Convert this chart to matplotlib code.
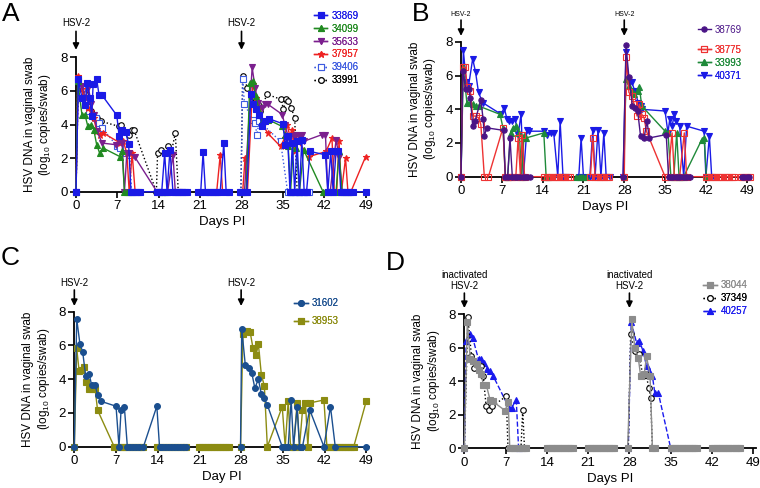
import numpy as np
import matplotlib.pyplot as plt

plt.rcParams['font.family'] = ['Liberation Sans', 'DejaVu Sans']
plt.rcParams['mathtext.fontset'] = 'custom'
plt.rcParams['mathtext.rm'] = 'Liberation Sans'
plt.rcParams['mathtext.default'] = 'regular'

nan = np.nan

# ---- panel A: (day, log10 copies) per animal, nan breaks the line
a_33869 = [(0, 0), (0.4, 6.7), (1.0, 5.6), (1.5, 5.15), (1.9, 6.45), (2.3, 5.6), (2.65, 4.5), (2.9, 6.4),
           (3.5, 6.7), (3.9, 5.75), (4.4, 5.75), (6.9, 4.55), (7.3, 3.3), (7.85, 3.7), (8.4, 3.55), (8.9, 2.85),
           (9.3, 0), (9.7, 0), (10.1, 0), (10.5, 0), (10.9, 0), (13.7, 0), (14.1, 0), (14.5, 0), (15.0, 2.3),
           (15.4, 0), (15.9, 2.5), (16.4, 0), (16.8, 0), (17.2, 0), (17.6, 0), (18.0, 0), (18.4, 0), (18.8, 0),
           (nan, nan), (20.7, 0), (21.1, 0), (21.5, 2.35), (21.9, 0), (22.3, 0), (22.7, 0), (23.1, 0), (23.5, 0),
           (23.9, 0), (24.4, 0), (25.0, 2.9), (25.4, 0), (25.8, 0), (nan, nan), (27.8, 0), (28.3, 0), (28.9, 0),
           (29.6, 5.85), (30.0, 5.2), (30.5, 4.9), (31.0, 4.6), (31.5, 3.9), (31.9, 4.2), (32.6, 4.35),
           (35.0, 4.05), (35.4, 2.8), (35.8, 3.3), (36.2, 0), (36.6, 2.9), (37.0, 0), (37.4, 3.0), (37.8, 0),
           (38.2, 3.1), (38.6, 0), (39.0, 0), (39.6, 2.4), (42.2, 2.2), (42.6, 0), (43.1, 2.4), (43.5, 0),
           (44.0, 2.4), (44.4, 2.4), (44.8, 0), (45.2, 0), (45.6, 0), (46.0, 0), (46.4, 0), (46.8, 0), (49.0, 0)]
a_34099 = [(0, 0), (0.3, 6.6), (1.0, 4.6), (1.5, 4.6), (2.0, 3.9), (2.6, 4.0), (3.0, 3.7), (3.5, 2.8),
           (4.0, 2.3), (4.6, 2.6), (7.4, 2.1), (7.8, 2.4), (8.2, 0), (8.6, 0), (9.0, 0), (nan, nan), (14.2, 0),
           (14.6, 0), (15.0, 0), (15.4, 0), (nan, nan), (27.9, 0), (28.8, 0), (29.4, 6.5), (29.9, 6.6),
           (30.4, 5.7), (31.0, 4.8), (31.5, 4.2), (32.5, 4.3), (34.8, 3.9), (35.4, 3.4), (35.9, 2.7), (36.3, 0),
           (36.8, 2.9), (37.3, 2.6), (37.8, 0), (38.5, 2.5), (41.8, 0), (42.2, 0), (43.0, 0), (44.0, 0),
           (44.5, 2.4), (45.0, 0), (46.0, 0)]
a_35633 = [(0, 0), (0.4, 6.6), (1.0, 6.3), (1.6, 5.6), (2.1, 6.2), (2.6, 5.2), (3.0, 4.6), (3.6, 3.6),
           (4.4, 2.9), (6.8, 2.8), (7.3, 3.0), (7.8, 2.9), (8.2, 0), (8.6, 2.3), (9.0, 2.3), (9.9, 2.1),
           (13.7, 0), (14.2, 0), (15.0, 0), (15.5, 0), (16.4, 2.2), (16.8, 0), (17.5, 0), (18.0, 0), (nan, nan),
           (28.5, 0), (29.8, 7.4), (30.3, 6.2), (30.8, 5.3), (31.4, 5.0), (32.0, 5.2), (32.5, 5.2), (34.9, 4.6),
           (35.3, 4.0), (36.0, 3.2), (36.8, 3.3), (37.3, 3.4), (37.7, 3.35), (38.2, 3.4), (38.5, 3.0),
           (41.6, 3.4), (42.2, 3.4), (42.6, 0), (43.0, 0), (44.0, 3.1), (44.5, 2.1), (45.0, 0)]
a_37957 = [(0, 0), (0.3, 6.9), (1.0, 6.1), (1.5, 5.2), (2.0, 5.0), (2.5, 4.8), (3.0, 4.4), (3.5, 3.6),
           (4.1, 3.4), (4.6, 3.5), (7.5, 2.9), (8.0, 3.0), (8.6, 2.3), (9.0, 0), (9.5, 2.3), (10.0, 0), (nan, nan),
           (23.8, 0), (24.4, 2.2), (24.8, 0), (nan, nan), (28.2, 0), (28.6, 2.0), (29.0, 0), (29.9, 6.4),
           (30.5, 5.6), (31.0, 4.9), (31.6, 4.0), (32.4, 3.5), (34.6, 2.7), (35.3, 3.2), (35.7, 4.0), (36.2, 3.3),
           (36.6, 3.7), (37.0, 2.4), (37.5, 3.0), (39.5, 2.1), (42.3, 2.4), (43.3, 3.2), (43.7, 0), (44.1, 0),
           (44.5, 3.0), (44.9, 0), (45.6, 2.0), (46.0, 0), (46.5, 0), (49.0, 2.1)]
a_39406 = [(0, 0), (0.3, 6.6), (1.0, 6.2), (1.5, 5.3), (2.2, 4.8), (2.8, 4.6), (3.4, 4.4), (3.9, 4.1),
           (4.4, 3.8), (7.0, 2.7), (7.4, 2.6), (8.5, 2.3), (9.1, 2.2), (9.4, 0), (nan, nan), (27.9, 0), (28.2, 6.7),
           (28.5, 5.2), (29.9, 4.3), (30.3, 4.1), (30.6, 3.4), (31.0, 4.2), (34.6, 3.0), (35.8, 0), (36.2, 0),
           (36.6, 0), (37.0, 0), (37.4, 0), (37.8, 0), (38.2, 0), (38.6, 0), (39.0, 0), (39.4, 0)]
a_33991 = [(0, 0), (0.4, 6.6), (1.0, 6.3), (1.5, 5.8), (2.0, 5.4), (2.5, 4.8), (3.0, 4.4), (3.6, 4.4),
           (4.2, 4.2), (7.2, 3.9), (7.6, 4.0), (8.9, 3.4), (9.4, 3.7), (9.8, 3.7), (13.6, 0), (13.8, 2.3),
           (14.3, 2.5), (15.6, 2.7), (16.1, 2.3), (16.8, 3.5), (17.3, 0), (nan, nan), (27.9, 0), (28.2, 6.9),
           (29.0, 6.2), (29.6, 5.7), (30.2, 5.6), (30.8, 5.2), (31.2, 4.8), (32.3, 5.8), (34.7, 5.5), (35.1, 4.9),
           (35.5, 5.5), (35.9, 5.4), (36.4, 5.0), (37.0, 4.4), (37.4, 0), (38.0, 0), (38.6, 0), (39.2, 0)]

# ---- panel B
b_38769 = [(0, 0), (0.3, 6.3), (0.8, 5.2), (1.3, 5.2), (1.6, 4.7), (2.0, 3.0), (2.4, 3.3), (3.4, 4.55),
           (3.8, 3.4), (4.0, 2.4), (4.4, 2.9), (7.3, 2.75), (7.6, 0), (8.0, 0), (8.4, 2.3), (8.8, 0), (9.2, 0),
           (9.6, 0), (10.2, 0), (10.6, 0), (11.0, 0), (11.4, 0), (11.8, 0), (nan, nan), (27.8, 0), (28.3, 7.8),
           (28.8, 5.9), (29.4, 4.2), (29.8, 4.1), (30.3, 3.9), (30.8, 2.4), (31.4, 2.3), (31.9, 3.3), (32.3, 2.3),
           (35.2, 2.5), (35.6, 0), (36.0, 0), (36.4, 0), (36.8, 0), (37.2, 0), (37.6, 0), (38.0, 0), (38.4, 0),
           (38.8, 0), (39.2, 0), (nan, nan), (48.2, 0), (48.6, 0), (49.0, 0), (49.4, 0)]
b_38775 = [(0, 0), (0.3, 6.5), (0.7, 6.5), (1.1, 5.3), (1.6, 5.1), (2.0, 3.6), (2.5, 3.6), (3.0, 3.5),
           (3.4, 3.1), (4.0, 0), (4.7, 0), (7.2, 2.9), (7.6, 0), (8.0, 0), (8.4, 0), (8.8, 0), (9.4, 0), (9.8, 2.3),
           (10.2, 0), (10.5, 2.5), (10.9, 0), (14.3, 0), (14.7, 0), (15.1, 0), (15.5, 0), (15.9, 0), (16.3, 0),
           (16.7, 0), (17.1, 0), (17.5, 0), (17.9, 0), (18.3, 0), (18.7, 0), (nan, nan), (22.2, 0), (22.6, 2.3),
           (23.0, 0), (23.4, 0), (23.8, 0), (24.2, 0), (24.6, 0), (25.0, 0), (25.4, 0), (nan, nan), (28.0, 0),
           (28.3, 7.1), (28.8, 5.0), (29.3, 4.8), (29.7, 4.3), (30.2, 3.6), (30.6, 4.3), (31.0, 3.7), (31.4, 3.5),
           (31.8, 2.7), (35.0, 0), (35.5, 0), (36.2, 2.6), (36.6, 0), (37.0, 0), (37.5, 0), (38.3, 2.6), (38.7, 0),
           (42.0, 0), (42.4, 0), (42.8, 0), (43.2, 0), (43.6, 0), (44.0, 0), (44.4, 0), (44.8, 0), (45.2, 0),
           (45.6, 0), (46.0, 0), (46.4, 0), (46.8, 0), (48.0, 0), (48.4, 0), (48.8, 0), (49.2, 0), (49.6, 0)]
b_33993 = [(0, 0), (0.4, 6.5), (1.0, 4.4), (1.5, 4.4), (2.0, 4.3), (2.6, 4.2), (3.0, 4.2), (6.7, 3.7),
           (7.2, 2.9), (7.6, 0), (8.0, 0), (8.5, 2.6), (9.0, 2.9), (9.5, 3.0), (10.0, 2.6), (10.4, 0), (10.8, 2.4),
           (11.2, 2.3), (14.2, 2.6), (14.6, 0), (15.0, 0), (nan, nan), (19.8, 0), (20.2, 0), (20.6, 0), (21.0, 0),
           (21.4, 0), (nan, nan), (27.9, 0), (28.3, 5.8), (28.8, 5.4), (29.3, 5.1), (29.7, 4.9), (30.3, 5.1),
           (30.6, 5.3), (31.0, 4.2), (35.0, 2.7), (35.5, 2.6), (36.0, 0), (36.5, 0), (37.0, 2.6), (37.4, 0),
           (37.8, 0), (38.2, 0), (41.3, 2.2), (41.7, 2.3), (42.1, 0)]
b_40371 = [(0, 0), (0.4, 7.5), (0.9, 5.6), (1.3, 5.4), (2.0, 7.0), (2.5, 6.2), (3.0, 5.0), (3.7, 4.4),
           (6.9, 3.7), (7.4, 4.1), (7.9, 3.4), (8.3, 3.3), (8.8, 3.3), (9.3, 3.4), (9.8, 2.5), (10.3, 3.7),
           (10.7, 0), (11.3, 2.8), (11.7, 2.7), (14.3, 2.7), (14.8, 2.5), (15.4, 2.6), (15.9, 2.6), (16.6, 0),
           (17.0, 3.3), (17.5, 0), (18.0, 0), (nan, nan), (20.2, 0), (20.6, 2.3), (21.0, 0), (22.1, 0), (22.6, 2.8),
           (23.0, 0), (23.5, 2.8), (24.0, 0), (24.5, 2.6), (24.9, 0), (25.5, 0), (nan, nan), (27.8, 0), (28.3, 7.4),
           (28.8, 5.5), (29.3, 5.6), (29.8, 5.1), (30.4, 4.4), (30.8, 4.2), (31.0, 4.0), (35.0, 3.9), (35.5, 2.6),
           (35.8, 3.4), (36.2, 3.0), (36.6, 3.7), (36.9, 3.3), (37.5, 3.0), (38.2, 0), (38.7, 3.0), (41.7, 2.7),
           (42.0, 0), (42.6, 2.4), (43.0, 0)]

# ---- panel C
c_31602 = [(0, 0), (0.4, 7.57), (0.95, 6.07), (1.4, 5.63), (1.9, 4.2), (2.5, 4.3), (2.9, 3.65), (3.5, 3.65),
           (3.9, 3.06), (4.4, 2.7), (7.0, 2.4), (7.5, 0), (7.85, 2.2), (8.4, 2.35), (8.9, 0), (9.4, 0), (9.9, 0),
           (10.4, 0), (10.9, 0), (11.6, 0), (13.85, 2.4), (14.3, 0), (14.8, 0), (15.3, 0), (15.8, 0), (16.3, 0),
           (16.8, 0), (17.3, 0), (17.8, 0), (18.3, 0), (18.8, 0), (nan, nan), (27.9, 0), (28.1, 7.0), (28.7, 4.84),
           (29.3, 4.68), (29.8, 4.35), (30.3, 3.48), (30.9, 4.0), (31.4, 3.1), (31.9, 2.87), (32.4, 2.47),
           (34.9, 0), (35.4, 0), (35.9, 0), (36.4, 2.77), (36.8, 0), (37.4, 2.33), (37.8, 0), (38.3, 0),
           (39.5, 2.2), (41.9, 0), (43.0, 2.37), (43.8, 0), (49.0, 0)]
c_38953 = [(0, 0), (0.4, 5.83), (0.8, 4.5), (1.2, 4.55), (1.6, 4.75), (1.9, 3.85), (2.5, 3.4), (3.0, 3.4),
           (3.5, 3.4), (3.9, 2.17), (6.7, 0), (7.2, 0), (7.7, 0), (8.2, 0), (8.7, 0), (9.2, 0), (9.7, 0), (10.2, 0),
           (10.7, 0), (11.2, 0), (11.6, 0), (nan, nan), (13.9, 0), (14.4, 0), (14.9, 0), (15.4, 0), (15.9, 0),
           (16.4, 0), (16.9, 0), (17.4, 0), (17.9, 0), (18.4, 0), (18.8, 0), (nan, nan), (21.0, 0), (21.5, 0),
           (22.0, 0), (22.5, 0), (23.0, 0), (23.5, 0), (24.0, 0), (24.5, 0), (25.0, 0), (25.5, 0), (26.0, 0),
           (nan, nan), (27.9, 0), (28.3, 6.66), (29.0, 6.88), (29.5, 6.82), (30.0, 5.83), (30.5, 5.43),
           (30.9, 6.07), (31.4, 4.25), (31.9, 3.6), (32.4, 0), (34.9, 2.37), (35.4, 0), (35.9, 2.7), (36.3, 0),
           (36.8, 0), (37.4, 2.6), (37.8, 0), (38.3, 2.15), (38.8, 2.6), (39.2, 0), (39.6, 2.6), (41.9, 2.77),
           (42.4, 0), (42.9, 0), (43.4, 0), (43.9, 0), (44.4, 0), (44.9, 0), (45.4, 0), (45.9, 0), (46.4, 0),
           (46.9, 0), (49.0, 2.7)]

# ---- panel D
d_38044 = [(0, 0), (0.5, 7.5), (1.0, 5.3), (1.5, 5.2), (2.1, 5.0), (2.5, 4.66), (2.9, 4.4), (3.2, 3.8),
           (3.7, 3.8), (4.35, 2.9), (4.8, 2.8), (6.9, 2.25), (7.45, 2.74), (7.7, 0), (8.1, 0), (8.5, 0), (8.9, 0),
           (9.3, 0), (9.7, 0), (10.1, 0), (10.5, 0), (nan, nan), (14.0, 0), (14.4, 0), (14.8, 0), (15.2, 0),
           (15.6, 0), (16.0, 0), (16.4, 0), (16.8, 0), (17.2, 0), (17.6, 0), (18.0, 0), (18.4, 0), (nan, nan),
           (21.0, 0), (21.4, 0), (21.8, 0), (22.2, 0), (22.6, 0), (23.0, 0), (23.4, 0), (23.8, 0), (24.2, 0),
           (24.6, 0), (25.0, 0), (25.4, 0), (nan, nan), (27.7, 0), (28.4, 7.7), (28.9, 6.0), (29.5, 5.4),
           (29.9, 4.3), (30.5, 4.4), (30.9, 5.5), (31.5, 4.3), (31.9, 0), (32.3, 0), (nan, nan), (35.0, 0),
           (35.4, 0), (35.8, 0), (36.2, 0), (36.6, 0), (37.0, 0), (37.4, 0), (37.8, 0), (38.2, 0), (38.6, 0),
           (39.0, 0), (39.4, 0), (nan, nan), (42.0, 0), (42.4, 0), (42.8, 0), (43.2, 0), (43.6, 0), (44.0, 0),
           (44.4, 0), (44.8, 0), (45.2, 0), (45.6, 0), (46.0, 0), (46.4, 0), (46.8, 0)]
d_37349 = [(0, 0), (0.6, 7.8), (1.2, 5.5), (1.7, 4.8), (2.3, 4.9), (2.8, 4.9), (3.2, 4.3), (3.7, 2.5),
           (4.2, 2.3), (4.7, 2.5), (7.1, 3.1), (7.4, 0), (8.3, 0), (9.6, 0), (9.9, 2.3), (10.2, 0), (nan, nan),
           (27.8, 0), (28.2, 6.8), (28.9, 5.8), (29.6, 5.6), (30.3, 4.3), (30.8, 4.4), (31.3, 3.6), (31.6, 3.0),
           (31.9, 0)]
d_40257 = [(0, 0), (0.3, 6.4), (0.9, 6.8), (1.4, 6.6), (2.4, 5.3), (2.9, 5.3), (3.4, 5.1), (3.9, 4.7),
           (4.4, 4.6), (4.9, 4.3), (7.6, 2.4), (8.0, 2.4), (8.8, 2.9), (9.2, 0), (nan, nan), (27.8, 0), (28.3, 7.5),
           (29.2, 6.3), (29.7, 6.4), (30.3, 5.8), (30.9, 4.9), (31.3, 4.6), (31.9, 4.3), (32.3, 3.3), (32.9, 3.3),
           (35.0, 0)]

day_ticks = [0, 7, 14, 21, 28, 35, 42, 49]
y_ticks = [0, 2, 4, 6, 8]
ylab = 'HSV DNA in vaginal swab\n(log$_{10}$ copies/swab)'

fig = plt.figure(figsize=(7.6, 4.88), dpi=100)


def setup(ax, xlabel):
    ax.set_xlim(0, 49.5)
    ax.set_ylim(0, 8)
    ax.set_xticks(day_ticks)
    ax.set_yticks(y_ticks)
    ax.spines['top'].set_visible(False)
    ax.spines['right'].set_visible(False)
    ax.spines['left'].set_linewidth(1.3)
    ax.spines['bottom'].set_linewidth(1.3)
    ax.tick_params(direction='out', length=4, width=1.2, labelsize=9.5, pad=2)
    ax.set_xlabel(xlabel, fontsize=9.5, labelpad=3)
    ax.set_ylabel(ylab, fontsize=8.5, labelpad=5, linespacing=1.15)


def draw(ax, pts, color, marker, label, ls='-', mfc=None, ms=3.8, z=3):
    d = np.array(pts, dtype=float)
    ln, = ax.plot(d[:, 0], d[:, 1], color=color, marker=marker, ls=ls, lw=1.0, ms=ms,
                  mfc=color if mfc is None else mfc, mec=color, mew=0.8,
                  clip_on=False, label=label, zorder=z)
    return ln


def arrow(ax, day, txt, y_txt, y_tail, y_tip, fs=7):
    ax.annotate('', xy=(day, y_tip), xytext=(day, y_tail), annotation_clip=False,
                arrowprops=dict(arrowstyle='-|>', color='black', lw=1.2, mutation_scale=9,
                                shrinkA=0, shrinkB=0))
    ax.text(day, y_txt, txt, ha='center', va='bottom', fontsize=fs, linespacing=1.1, clip_on=False)


def legend(ax, handles, x, y, spacing=0.3):
    leg = ax.legend(handles=handles, loc='upper left', bbox_to_anchor=(x, y), bbox_transform=fig.transFigure,
                    frameon=False, fontsize=7, handlelength=1.4, handletextpad=0.4, labelspacing=spacing,
                    borderpad=0, borderaxespad=0, labelcolor='linecolor')
    ax.add_artist(leg)


# A
axA = fig.add_axes([0.1, 0.607, 0.385, 0.2754])
setup(axA, 'Days PI')
h6 = draw(axA, a_33991, 'black', 'o', '33991', ls=':', mfc='white', ms=4)
h5 = draw(axA, a_39406, '#3d5be0', 's', '39406', ls=':', mfc='white', ms=4)
h4 = draw(axA, a_37957, '#ee2222', '*', '37957', ms=5)
h3 = draw(axA, a_35633, '#7b1f8e', 'v', '35633')
h2 = draw(axA, a_34099, '#218a21', '^', '34099')
h1 = draw(axA, a_33869, '#1a1ae6', 's', '33869', z=4)
legend(axA, [h1, h2, h3, h4, h5, h6], 0.413, 0.978, 0.3)
arrow(axA, 0, 'HSV-2', 9.72, 9.55, 8.45)
arrow(axA, 28, 'HSV-2', 9.72, 9.55, 8.45)

# B
axB = fig.add_axes([0.6066, 0.638, 0.3797, 0.276])
setup(axB, 'Days PI')
g4 = draw(axB, b_40371, '#1a1ae6', 'v', '40371')
g3 = draw(axB, b_33993, '#1f8a3a', '^', '33993')
g2 = draw(axB, b_38775, '#ee3333', 's', '38775', mfc='none', ms=4.5)
g1 = draw(axB, b_38769, '#4a1486', 'o', '38769')
legend(axB, [g1], 0.918, 0.949)
legend(axB, [g2, g3, g4], 0.918, 0.908, 0.3)
arrow(axB, 0, 'HSV-2', 9.45, 9.3, 8.36, fs=5)
arrow(axB, 28, 'HSV-2', 9.45, 9.3, 8.36, fs=5)

# C
axC = fig.add_axes([0.0978, 0.0846, 0.388, 0.2766])
setup(axC, 'Day PI')
k2 = draw(axC, c_38953, '#8c8c12', 's', '38953', ms=4.2)
k1 = draw(axC, c_31602, '#1b4f8f', 'o', '31602', ms=4.2)
legend(axC, [k1, k2], 0.387, 0.389, 0.8)
arrow(axC, 0, 'HSV-2', 9.4, 9.29, 8.34)
arrow(axC, 28, 'HSV-2', 9.4, 9.29, 8.34)

# D
axD = fig.add_axes([0.611, 0.0814, 0.384, 0.275])
setup(axD, 'Days PI')
m3 = draw(axD, d_40257, '#1a1aee', '^', '40257', ls='--', ms=3.8)
m2 = draw(axD, d_37349, 'black', 'o', '37349', ls=':', mfc='white', ms=4)
m1 = draw(axD, d_38044, '#8c8c8c', 's', '38044')
legend(axD, [m1, m2, m3], 0.925, 0.426, 0.3)
arrow(axD, 0, 'inactivated\nHSV-2', 9.36, 9.25, 8.36)
arrow(axD, 28, 'inactivated\nHSV-2', 9.36, 9.25, 8.36)

fig.text(0.003, 0.995, 'A', fontsize=19, va='top')
fig.text(0.542, 0.995, 'B', fontsize=19, va='top')
fig.text(0.001, 0.495, 'C', fontsize=19, va='top')
fig.text(0.508, 0.485, 'D', fontsize=19, va='top')

fig.savefig('out.png', dpi=100)
